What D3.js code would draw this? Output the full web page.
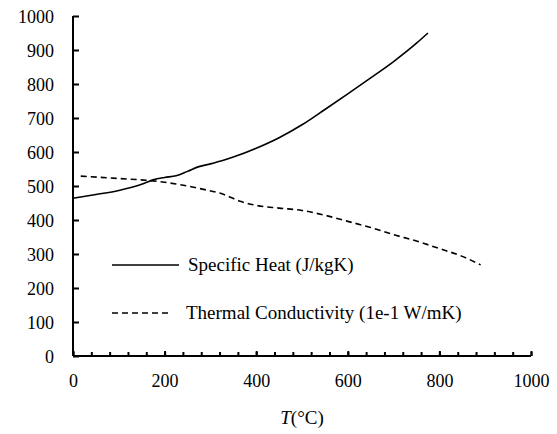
<!DOCTYPE html>
<html>
<head>
<meta charset="utf-8">
<script src="https://cdn.jsdelivr.net/npm/d3@7"></script>
<style>
  html, body { margin: 0; padding: 0; background: #fff; }
  svg { display: block; }
  svg text { font-family: "Times New Roman", Times, "Liberation Serif", Tinos, "DejaVu Serif", serif; fill: #000; }
</style>
</head>
<body>
<svg id="chart" width="557" height="434"></svg>
<script>
// Temperature (°C) and property values
const heatT     = [0, 50, 100, 150, 175, 200, 225, 250, 275, 300, 325, 350, 400, 450, 500, 550, 600, 650, 700, 750, 775];
const heatVals  = [464, 475, 487, 505, 518, 525, 530, 543, 557, 565, 574, 585, 611, 642, 680, 725, 771, 818, 866, 920, 950];
const condT     = [17, 100, 175, 225, 285, 325, 365, 400, 450, 500, 550, 600, 650, 700, 750, 800, 850, 890];
const condVals  = [529, 522, 515, 506, 490, 477, 455, 443, 435, 428, 414, 396, 378, 357, 338, 316, 293, 268];

const xTicks = [0, 200, 400, 600, 800, 1000];
const yTicks = [0, 100, 200, 300, 400, 500, 600, 700, 800, 900, 1000];
const seriesNames = ["Specific Heat (J/kgK)", "Thermal Conductivity (1e-1 W/mK)"];

const svg = d3.select("#chart");
const x = d3.scaleLinear().domain([0, 1000]).range([73, 531]);
const y = d3.scaleLinear().domain([0, 1000]).range([356, 16]);

const tickFont = 18;
const labelFont = 19;

// y axis: ticks pointing inward
const yAxis = svg.append("g")
  .attr("transform", `translate(${x(0)},0)`)
  .call(d3.axisLeft(y).tickValues(yTicks).tickSize(-6).tickPadding(0).tickFormat(d3.format("d")));
yAxis.attr("font-family", null);
yAxis.select(".domain").attr("stroke", "#000").attr("stroke-width", 2).attr("d", `M0,${y(1000)}H0V${y(0)}`);
yAxis.selectAll(".tick line").attr("stroke", "#000").attr("stroke-width", 2);
yAxis.selectAll(".tick text")
  .attr("x", -19).attr("dy", "0.35em")
  .style("font-size", tickFont + "px").attr("fill", "#000");

// x axis: minor ticks every 40, major every 200, all inward
const minor = d3.range(0, 1001, 40);
const xAxisMinor = svg.append("g")
  .attr("transform", `translate(0,${y(0)})`)
  .call(d3.axisBottom(x).tickValues(minor).tickSize(-4).tickFormat(""));
xAxisMinor.select(".domain").remove();
xAxisMinor.selectAll(".tick line").attr("stroke", "#000").attr("stroke-width", 2);

const xAxis = svg.append("g")
  .attr("transform", `translate(0,${y(0)})`)
  .call(d3.axisBottom(x).tickValues(xTicks).tickSize(-5).tickPadding(0).tickFormat(d3.format("d")));
xAxis.attr("font-family", null);
xAxis.select(".domain").attr("stroke", "#000").attr("stroke-width", 2).attr("d", `M${x(0)},0H${x(1000)}`);
xAxis.selectAll(".tick line").attr("stroke", "#000").attr("stroke-width", 2);
xAxis.selectAll(".tick text")
  .attr("y", 31).attr("dy", 0)
  .style("font-size", tickFont + "px").attr("fill", "#000");

// axis title
const title = svg.append("text")
  .attr("x", 302).attr("y", 424)
  .attr("text-anchor", "middle")
  .style("font-size", labelFont + "px");
title.append("tspan").style("font-style", "italic").text("T");
title.append("tspan").text("(°C)");

// series lines
const line = d3.line().x(d => x(d[0])).y(d => y(d[1])).curve(d3.curveMonotoneX);
svg.append("path")
  .datum(d3.zip(heatT, heatVals))
  .attr("d", line)
  .attr("fill", "none").attr("stroke", "#000").attr("stroke-width", 1.6);
svg.append("path")
  .datum(d3.zip(condT, condVals))
  .attr("d", line)
  .attr("fill", "none").attr("stroke", "#000").attr("stroke-width", 1.6)
  .attr("stroke-dasharray", "6,4");

// legend
const legend = [
  { name: seriesNames[0], dash: null, y: 265, x2: 179, tx: 188 },
  { name: seriesNames[1], dash: "6,4", y: 313, x2: 172, tx: 186 }
];
legend.forEach(l => {
  svg.append("line")
    .attr("x1", 112).attr("x2", l.x2).attr("y1", l.y).attr("y2", l.y)
    .attr("stroke", "#000").attr("stroke-width", 1.6)
    .attr("stroke-dasharray", l.dash);
  svg.append("text")
    .attr("x", l.tx).attr("y", l.y + 6)
    .style("font-size", labelFont + "px")
    .text(l.name);
});
</script>
</body>
</html>
